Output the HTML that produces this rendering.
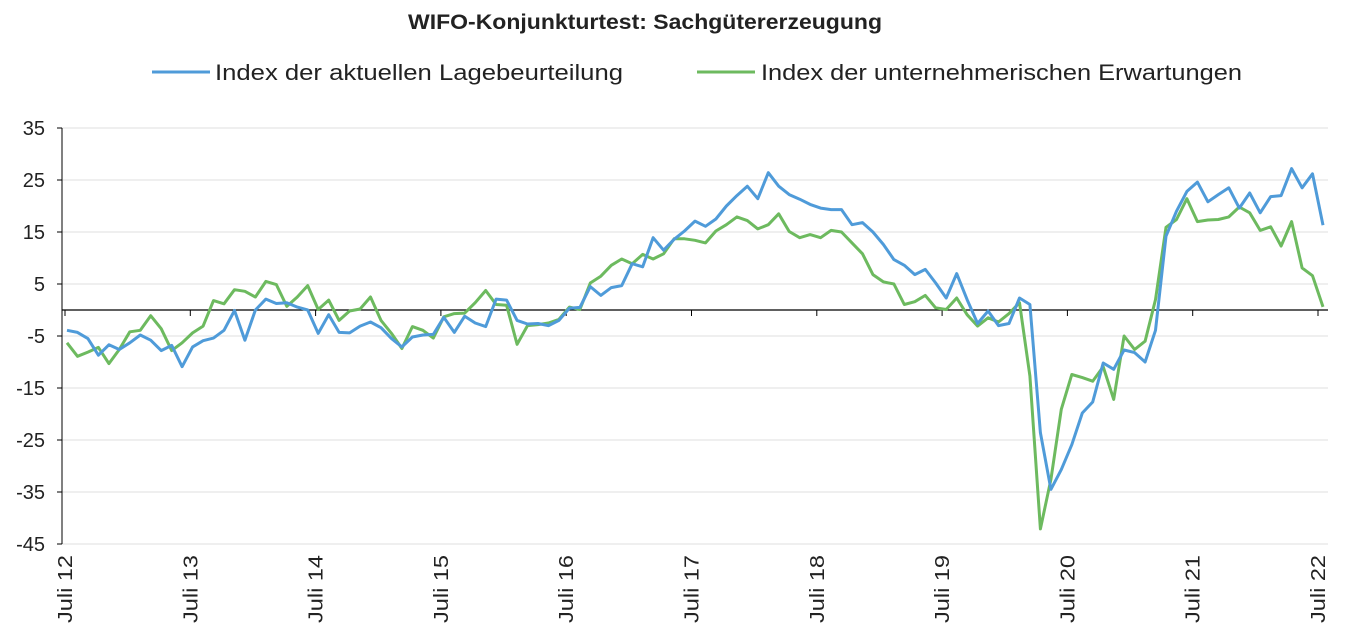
<!DOCTYPE html>
<html><head><meta charset="utf-8"><style>
body{margin:0;background:#fff;}
svg text{font-family:"Liberation Sans",sans-serif;fill:#222;}
</style></head><body>
<svg width="1347" height="639" viewBox="0 0 1347 639" id="c">
<text x="408" y="29" textLength="474" lengthAdjust="spacingAndGlyphs" font-size="21" font-weight="bold">WIFO-Konjunkturtest: Sachgütererzeugung</text>
<g>
<line x1="152" y1="72" x2="210" y2="72" stroke="#4f9bd9" stroke-width="3"/>
<text x="215" y="80" font-size="22" textLength="408" lengthAdjust="spacingAndGlyphs">Index der aktuellen Lagebeurteilung</text>
<line x1="697" y1="72" x2="755" y2="72" stroke="#6dba5f" stroke-width="3"/>
<text x="761" y="80" font-size="22" textLength="481" lengthAdjust="spacingAndGlyphs">Index der unternehmerischen Erwartungen</text>
</g>
<g id="grid"></g><g id="axes"></g><g id="series"></g>
</svg>
<script>
const yTicks=[35,25,15,5,-5,-15,-25,-35,-45];
const xLabels=["Juli 12","Juli 13","Juli 14","Juli 15","Juli 16","Juli 17","Juli 18","Juli 19","Juli 20","Juli 21","Juli 22"];
const lage=[-3.9,-4.3,-5.5,-8.7,-6.7,-7.6,-6.3,-4.8,-5.8,-7.8,-6.8,-10.9,-7.1,-5.9,-5.4,-3.9,-0.1,-5.8,0.0,2.1,1.25,1.4,0.55,0,-4.5,-0.9,-4.3,-4.4,-3.1,-2.3,-3.4,-5.5,-7.1,-5.2,-4.8,-4.7,-1.4,-4.3,-1.2,-2.5,-3.2,2.1,1.9,-2.0,-2.7,-2.6,-3.0,-2.0,0.35,0.5,
4.5,2.8,4.3,4.7,8.9,8.3,13.9,11.5,13.6,15.2,17.1,16.1,17.5,20.0,22.0,23.8,21.4,26.4,23.8,22.2,21.3,20.3,19.6,19.3,19.3,16.4,16.8,15.0,12.6,9.7,8.6,6.8,7.8,5.2,2.3,7.0,2.0,-2.6,-0.2,-3.0,-2.6,2.3,1.06,
-23.6,-34.5,-30.7,-25.9,-19.8,-17.7,-10.2,-11.4,-7.7,-8.2,-10.0,-3.9,14.2,19.0,22.8,24.6,20.8,22.2,23.5,19.6,22.5,18.7,21.8,22.0,27.2,23.5,26.2,16.3];
const erwartungen=[-6.3,-8.9,-8.1,-7.2,-10.3,-7.6,-4.2,-3.9,-1.1,-3.6,-7.8,-6.3,-4.4,-3.1,1.8,1.2,3.9,3.6,2.5,5.5,4.9,0.7,2.5,4.7,0.1,1.9,-2.0,-0.2,0.2,2.5,-2.0,-4.5,-7.4,-3.2,-3.9,-5.4,-1.3,-0.7,-0.6,1.4,3.75,1.05,0.9,-6.6,-3.0,-2.8,-2.5,-1.8,0.55,0.1,
5.2,6.5,8.6,9.8,8.9,10.7,9.8,10.8,13.7,13.7,13.4,12.9,15.2,16.4,17.9,17.2,15.6,16.4,18.5,15.1,13.9,14.5,13.9,15.3,15.0,12.9,10.8,6.8,5.4,5.0,1.06,1.6,2.8,0.4,0.1,2.3,-0.9,-3.1,-1.5,-2.3,-0.7,1.4,
-12.7,-42.1,-32.6,-19.1,-12.4,-13.0,-13.7,-10.9,-17.2,-5.0,-7.6,-6.0,2.0,15.9,17.4,21.4,17.0,17.3,17.4,17.9,19.8,18.7,15.3,16.0,12.3,17.0,8.1,6.6,0.6];
const NS="http://www.w3.org/2000/svg";
const X0=62,X1=1328,Y0=128,Y1=544;
function y(v){return Y0+(35-v)/80*(Y1-Y0);}
function x(i){return 67+i*(1323-67)/120;}
function tickX(k){return 65+k*125.3;}
function mk(tag,attrs,parent){const e=document.createElementNS(NS,tag);for(const k in attrs)e.setAttribute(k,attrs[k]);parent.appendChild(e);return e;}
const grid=document.getElementById('grid'),axes=document.getElementById('axes'),ser=document.getElementById('series');
yTicks.forEach(v=>{
  const g=mk('line',{x1:X0,x2:X1,y1:y(v),y2:y(v),stroke:'#efefef','stroke-width':2},grid);
  
  
  const t=mk('line',{x1:X0-5,x2:X0,y1:y(v),y2:y(v),stroke:'#000','stroke-width':1},axes);
  
  
  const l=mk('text',{x:45,y:y(v)+7,'text-anchor':'end','font-size':20},axes);
  l.textContent=v;
  
  
});
const ya=mk('line',{x1:X0,x2:X0,y1:Y0,y2:Y1,stroke:'#000','stroke-width':1},axes);


const za=mk('line',{x1:X0,x2:X1,y1:y(0),y2:y(0),stroke:'#000','stroke-width':1.2},axes);


xLabels.forEach((s,k)=>{
  const tx=tickX(k);
  const t=mk('line',{x1:tx,x2:tx,y1:y(0),y2:y(0)+6,stroke:'#000','stroke-width':1},axes);
  
  
  const l=mk('text',{x:0,y:0,'text-anchor':'end','font-size':20,textLength:68,lengthAdjust:'spacingAndGlyphs',transform:`translate(${tx+7},555) rotate(-90)`},axes);
  l.textContent=s;
  
  
});
function line(arr,color,name){
  const p=mk('polyline',{points:arr.map((v,i)=>x(i).toFixed(1)+','+y(v).toFixed(1)).join(' '),fill:'none',stroke:color,'stroke-width':3,'stroke-linejoin':'round'},ser);
  
  
}
line(erwartungen,'#6dba5f','series-erwartungen');
line(lage,'#4f9bd9','series-lage');
</script>
</body></html>
